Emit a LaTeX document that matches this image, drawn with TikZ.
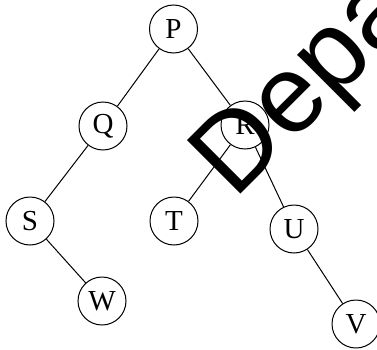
\documentclass[tikz,border=0pt]{standalone}
\usepackage{fontspec}
\setmainfont{Liberation Serif}
\newfontfamily\wmfont{Liberation Sans}
\begin{document}
\begin{tikzpicture}[x=1pt,y=1pt,
  tnode/.style={draw, circle, line width=1pt, minimum size=48pt, inner sep=0pt, fill=none, font=\fontsize{29}{29}\selectfont},
  tedge/.style={line width=1pt}]
\useasboundingbox (0,0) rectangle (377,349);
\begin{scope}
\clip (0,0) rectangle (377,349);
\node[tnode] (P) at (173.5,320) {P};
\node[tnode] (Q) at (103,223) {Q};
\node[tnode] (R) at (245,224) {R};
\node[tnode] (S) at (30,128) {S};
\node[tnode] (T) at (174,128) {T};
\node[tnode] (U) at (294,120) {U};
\node[tnode] (W) at (102,48) {W};
\node[tnode] (V) at (356,25) {V};
\draw[tedge] (P) -- (Q);
\draw[tedge] (P) -- (R);
\draw[tedge] (Q) -- (S);
\draw[tedge] (S) -- (W);
\draw[tedge] (R) -- (T);
\draw[tedge] (R) -- (U);
\draw[tedge] (U) -- (V);
\node[rotate=45, anchor=base west, inner sep=0pt, font=\wmfont\fontsize{110}{110}\selectfont] (wm) at (234,148) {Depa};
\end{scope}
\end{tikzpicture}
\end{document}
